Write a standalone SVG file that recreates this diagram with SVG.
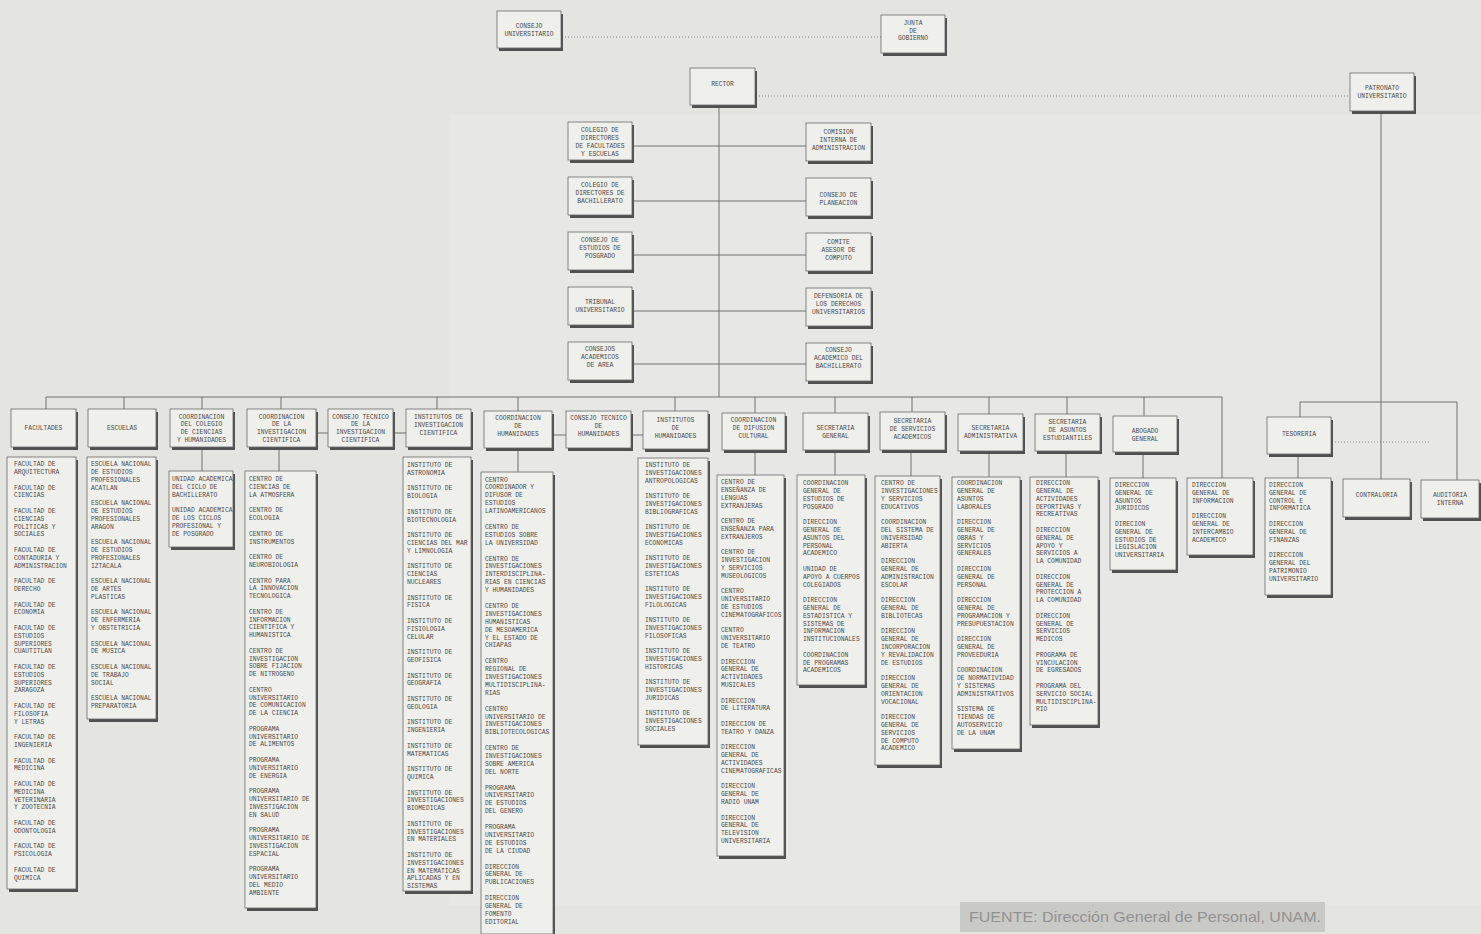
<svg xmlns="http://www.w3.org/2000/svg" width="1481" height="934" viewBox="0 0 1481 934">
<style>
.bg{fill:#e4e4e1}
.bx{fill:#efefec;stroke:#6a6a6a;stroke-width:0.8}
.sh{fill:#505050}
.t{font-family:"Liberation Mono","DejaVu Sans Mono",monospace;font-size:6.3px;fill:#4a4a4a}
.c{text-anchor:middle}
.ln{stroke:#707070;stroke-width:1;fill:none}
.dt{stroke:#8a8a8a;stroke-width:1;fill:none;stroke-dasharray:1 2}
.src{font-family:"Liberation Sans",Arial,sans-serif;font-size:15.5px;fill:#929292}
</style>
<rect class="bg" x="0" y="0" width="1481" height="934"/>
<rect x="450" y="115" width="1031" height="790" fill="#e7e7e5"/>

<g id="connectors">
  <line class="dt" x1="562" y1="37" x2="881" y2="37"/>
  <line class="dt" x1="756" y1="96" x2="1350" y2="96"/>
  <line class="dt" x1="1332" y1="442" x2="1430" y2="442"/>
  <line class="ln" x1="719" y1="107" x2="719" y2="397"/>
  <line class="ln" x1="632" y1="146" x2="806" y2="146"/>
  <line class="ln" x1="632" y1="201" x2="806" y2="201"/>
  <line class="ln" x1="632" y1="255" x2="806" y2="255"/>
  <line class="ln" x1="632" y1="311" x2="806" y2="311"/>
  <line class="ln" x1="632" y1="364" x2="806" y2="364"/>
  <line class="ln" x1="46" y1="397" x2="1222" y2="397"/>
  <line class="ln" x1="46" y1="397" x2="46" y2="409"/>
  <line class="ln" x1="124" y1="397" x2="124" y2="409"/>
  <line class="ln" x1="202" y1="397" x2="202" y2="409"/>
  <line class="ln" x1="281" y1="397" x2="281" y2="409"/>
  <line class="ln" x1="437" y1="397" x2="437" y2="409"/>
  <line class="ln" x1="518" y1="397" x2="518" y2="411"/>
  <line class="ln" x1="675" y1="397" x2="675" y2="411"/>
  <line class="ln" x1="755" y1="397" x2="755" y2="413"/>
  <line class="ln" x1="835" y1="397" x2="835" y2="413"/>
  <line class="ln" x1="912" y1="397" x2="912" y2="412"/>
  <line class="ln" x1="989" y1="397" x2="989" y2="414"/>
  <line class="ln" x1="1067" y1="397" x2="1067" y2="414"/>
  <line class="ln" x1="1144" y1="397" x2="1144" y2="416"/>
  <line class="ln" x1="1222" y1="397" x2="1222" y2="478"/>
  <line class="ln" x1="202" y1="449" x2="202" y2="471"/>
  <line class="ln" x1="279" y1="449" x2="279" y2="471"/>
  <line class="ln" x1="518" y1="450" x2="518" y2="472"/>
  <line class="ln" x1="755" y1="452" x2="755" y2="475"/>
  <line class="ln" x1="835" y1="452" x2="835" y2="475"/>
  <line class="ln" x1="911" y1="452" x2="911" y2="476"/>
  <line class="ln" x1="989" y1="453" x2="989" y2="477"/>
  <line class="ln" x1="1066" y1="453" x2="1066" y2="477"/>
  <line class="ln" x1="1143" y1="454" x2="1143" y2="478"/>
  <line class="ln" x1="1298" y1="456" x2="1298" y2="478"/>
  <line class="ln" x1="316" y1="433" x2="328" y2="433"/>
  <line class="ln" x1="393" y1="433" x2="406" y2="433"/>
  <line class="ln" x1="552" y1="435" x2="566" y2="435"/>
  <line class="ln" x1="631" y1="435" x2="643" y2="435"/>
  <line class="ln" x1="1381" y1="111" x2="1381" y2="479"/>
  <line class="ln" x1="1300" y1="402" x2="1457" y2="402"/>
  <line class="ln" x1="1300" y1="402" x2="1300" y2="417"/>
  <line class="ln" x1="1457" y1="402" x2="1457" y2="480"/>
</g>

<g id="n-consejo-universitario"><rect class="sh" x="499" y="14" width="64" height="37"/><rect class="bx" x="497" y="11" width="64" height="37"/>
<text class="t c"><tspan x="529" y="28">CONSEJO</tspan><tspan x="529" dy="7.8">UNIVERSITARIO</tspan></text></g>
<g id="n-junta"><rect class="sh" x="883" y="18" width="64" height="38"/><rect class="bx" x="881" y="15" width="64" height="38"/>
<text class="t c"><tspan x="913" y="25">JUNTA</tspan><tspan x="913" dy="7.5">DE</tspan><tspan x="913" dy="7.5">GOBIERNO</tspan></text></g>
<g id="n-rector"><rect class="sh" x="692" y="71" width="65" height="37"/><rect class="bx" x="690" y="68" width="65" height="37"/>
<text class="t c" x="722.5" y="86">RECTOR</text></g>
<g id="n-patronato"><rect class="sh" x="1352" y="76" width="64" height="38"/><rect class="bx" x="1350" y="73" width="64" height="38"/>
<text class="t c"><tspan x="1382" y="90">PATRONATO</tspan><tspan x="1382" dy="8">UNIVERSITARIO</tspan></text></g>

<g id="n-colegio-fac"><rect class="sh" x="570" y="125" width="64" height="38"/><rect class="bx" x="568" y="122" width="64" height="38"/>
<text class="t c"><tspan x="600" y="132.2">COLEGIO DE</tspan><tspan x="600" dy="7.8">DIRECTORES</tspan><tspan x="600" dy="7.8">DE FACULTADES</tspan><tspan x="600" dy="7.8">Y ESCUELAS</tspan></text></g>
<g id="n-colegio-bach"><rect class="sh" x="570" y="180" width="64" height="38"/><rect class="bx" x="568" y="177" width="64" height="38"/>
<text class="t c"><tspan x="600" y="187.2">COLEGIO DE</tspan><tspan x="600" dy="7.8">DIRECTORES DE</tspan><tspan x="600" dy="7.8">BACHILLERATO</tspan></text></g>
<g id="n-consejo-posgrado"><rect class="sh" x="570" y="235" width="64" height="38"/><rect class="bx" x="568" y="232" width="64" height="38"/>
<text class="t c"><tspan x="600" y="242.2">CONSEJO DE</tspan><tspan x="600" dy="7.8">ESTUDIOS DE</tspan><tspan x="600" dy="7.8">POSGRADO</tspan></text></g>
<g id="n-tribunal"><rect class="sh" x="570" y="290" width="64" height="38"/><rect class="bx" x="568" y="287" width="64" height="38"/>
<text class="t c"><tspan x="600" y="304.2">TRIBUNAL</tspan><tspan x="600" dy="7.8">UNIVERSITARIO</tspan></text></g>
<g id="n-consejos-area"><rect class="sh" x="570" y="345" width="64" height="38"/><rect class="bx" x="568" y="342" width="64" height="38"/>
<text class="t c"><tspan x="600" y="351.2">CONSEJOS</tspan><tspan x="600" dy="7.8">ACADEMICOS</tspan><tspan x="600" dy="7.8">DE AREA</tspan></text></g>

<g id="n-comision"><rect class="sh" x="808" y="126" width="65" height="38"/><rect class="bx" x="806" y="123" width="65" height="38"/>
<text class="t c"><tspan x="838.5" y="134.2">COMISION</tspan><tspan x="838.5" dy="7.8">INTERNA DE</tspan><tspan x="838.5" dy="7.8">ADMINISTRACION</tspan></text></g>
<g id="n-planeacion"><rect class="sh" x="808" y="181" width="65" height="38"/><rect class="bx" x="806" y="178" width="65" height="38"/>
<text class="t c"><tspan x="838.5" y="197.2">CONSEJO DE</tspan><tspan x="838.5" dy="7.8">PLANEACION</tspan></text></g>
<g id="n-comite"><rect class="sh" x="808" y="236" width="65" height="38"/><rect class="bx" x="806" y="233" width="65" height="38"/>
<text class="t c"><tspan x="838.5" y="244.2">COMITE</tspan><tspan x="838.5" dy="7.8">ASESOR DE</tspan><tspan x="838.5" dy="7.8">COMPUTO</tspan></text></g>
<g id="n-defensoria"><rect class="sh" x="808" y="291" width="65" height="38"/><rect class="bx" x="806" y="288" width="65" height="38"/>
<text class="t c"><tspan x="838.5" y="298.2">DEFENSORIA DE</tspan><tspan x="838.5" dy="7.8">LOS DERECHOS</tspan><tspan x="838.5" dy="7.8">UNIVERSITARIOS</tspan></text></g>
<g id="n-consejo-bach"><rect class="sh" x="808" y="346" width="65" height="38"/><rect class="bx" x="806" y="343" width="65" height="38"/>
<text class="t c"><tspan x="838.5" y="352.2">CONSEJO</tspan><tspan x="838.5" dy="7.8">ACADEMICO DEL</tspan><tspan x="838.5" dy="7.8">BACHILLERATO</tspan></text></g>

<g id="n-facultades"><rect class="sh" x="13" y="412" width="65" height="38"/><rect class="bx" x="11" y="409" width="65" height="38"/>
<text class="t c" x="43.5" y="430">FACULTADES</text></g>
<g id="n-escuelas"><rect class="sh" x="90" y="412" width="68" height="38"/><rect class="bx" x="88" y="409" width="68" height="38"/>
<text class="t c" x="122" y="430">ESCUELAS</text></g>
<g id="n-cch"><rect class="sh" x="172" y="412" width="63" height="38"/><rect class="bx" x="170" y="409" width="63" height="38"/>
<text class="t c"><tspan x="201.5" y="418.5">COORDINACION</tspan><tspan x="201.5" dy="7.8">DEL COLEGIO</tspan><tspan x="201.5" dy="7.8">DE CIENCIAS</tspan><tspan x="201.5" dy="7.8">Y HUMANIDADES</tspan></text></g>
<g id="n-cic"><rect class="sh" x="249" y="412" width="69" height="38"/><rect class="bx" x="247" y="409" width="69" height="38"/>
<text class="t c"><tspan x="281.5" y="418.5">COORDINACION</tspan><tspan x="281.5" dy="7.8">DE LA</tspan><tspan x="281.5" dy="7.8">INVESTIGACION</tspan><tspan x="281.5" dy="7.8">CIENTIFICA</tspan></text></g>
<g id="n-ctic"><rect class="sh" x="330" y="412" width="65" height="38"/><rect class="bx" x="328" y="409" width="65" height="38"/>
<text class="t c"><tspan x="360.5" y="418.5">CONSEJO TECNICO</tspan><tspan x="360.5" dy="7.8">DE LA</tspan><tspan x="360.5" dy="7.8">INVESTIGACION</tspan><tspan x="360.5" dy="7.8">CIENTIFICA</tspan></text></g>
<g id="n-iic"><rect class="sh" x="408" y="412" width="65" height="38"/><rect class="bx" x="406" y="409" width="65" height="38"/>
<text class="t c"><tspan x="438.5" y="419.2">INSTITUTOS DE</tspan><tspan x="438.5" dy="7.8">INVESTIGACION</tspan><tspan x="438.5" dy="7.8">CIENTIFICA</tspan></text></g>
<g id="n-ch"><rect class="sh" x="486" y="414" width="68" height="37"/><rect class="bx" x="484" y="411" width="68" height="37"/>
<text class="t c"><tspan x="518" y="420">COORDINACION</tspan><tspan x="518" dy="7.8">DE</tspan><tspan x="518" dy="7.8">HUMANIDADES</tspan></text></g>
<g id="n-cth"><rect class="sh" x="568" y="414" width="65" height="37"/><rect class="bx" x="566" y="411" width="65" height="37"/>
<text class="t c"><tspan x="598.5" y="420">CONSEJO TECNICO</tspan><tspan x="598.5" dy="7.8">DE</tspan><tspan x="598.5" dy="7.8">HUMANIDADES</tspan></text></g>
<g id="n-ih"><rect class="sh" x="645" y="414" width="65" height="38"/><rect class="bx" x="643" y="411" width="65" height="38"/>
<text class="t c"><tspan x="675.5" y="422">INSTITUTOS</tspan><tspan x="675.5" dy="7.8">DE</tspan><tspan x="675.5" dy="7.8">HUMANIDADES</tspan></text></g>
<g id="n-cdc"><rect class="sh" x="724" y="416" width="63" height="37"/><rect class="bx" x="722" y="413" width="63" height="37"/>
<text class="t c"><tspan x="753.5" y="422">COORDINACION</tspan><tspan x="753.5" dy="7.8">DE DIFUSION</tspan><tspan x="753.5" dy="7.8">CULTURAL</tspan></text></g>
<g id="n-sg"><rect class="sh" x="805" y="416" width="65" height="37"/><rect class="bx" x="803" y="413" width="65" height="37"/>
<text class="t c"><tspan x="835.5" y="430">SECRETARIA</tspan><tspan x="835.5" dy="7.8">GENERAL</tspan></text></g>
<g id="n-ssa"><rect class="sh" x="882" y="415" width="65" height="38"/><rect class="bx" x="880" y="412" width="65" height="38"/>
<text class="t c"><tspan x="912.5" y="423">SECRETARIA</tspan><tspan x="912.5" dy="7.8">DE SERVICIOS</tspan><tspan x="912.5" dy="7.8">ACADEMICOS</tspan></text></g>
<g id="n-sa"><rect class="sh" x="960" y="417" width="65" height="37"/><rect class="bx" x="958" y="414" width="65" height="37"/>
<text class="t c"><tspan x="990.5" y="430">SECRETARIA</tspan><tspan x="990.5" dy="7.8">ADMINISTRATIVA</tspan></text></g>
<g id="n-sae"><rect class="sh" x="1037" y="417" width="65" height="37"/><rect class="bx" x="1035" y="414" width="65" height="37"/>
<text class="t c"><tspan x="1067.5" y="424">SECRETARIA</tspan><tspan x="1067.5" dy="7.8">DE ASUNTOS</tspan><tspan x="1067.5" dy="7.8">ESTUDIANTILES</tspan></text></g>
<g id="n-ag"><rect class="sh" x="1115" y="419" width="64" height="36"/><rect class="bx" x="1113" y="416" width="64" height="36"/>
<text class="t c"><tspan x="1145" y="433">ABOGADO</tspan><tspan x="1145" dy="7.8">GENERAL</tspan></text></g>
<g id="n-tesoreria"><rect class="sh" x="1269" y="420" width="64" height="37"/><rect class="bx" x="1267" y="417" width="64" height="37"/>
<text class="t c" x="1299" y="436">TESORERIA</text></g>

<g id="n-fac-list"><rect class="sh" x="9" y="460" width="69" height="432"/><rect class="bx" x="7" y="457" width="69" height="432"/>
<text class="t"><tspan x="14" y="466.2">FACULTAD DE</tspan><tspan x="14" dy="7.8">ARQUITECTURA</tspan><tspan x="14" dy="15.6">FACULTAD DE</tspan><tspan x="14" dy="7.8">CIENCIAS</tspan><tspan x="14" dy="15.6">FACULTAD DE</tspan><tspan x="14" dy="7.8">CIENCIAS</tspan><tspan x="14" dy="7.8">POLITICAS Y</tspan><tspan x="14" dy="7.8">SOCIALES</tspan><tspan x="14" dy="15.6">FACULTAD DE</tspan><tspan x="14" dy="7.8">CONTADURIA Y</tspan><tspan x="14" dy="7.8">ADMINISTRACION</tspan><tspan x="14" dy="15.6">FACULTAD DE</tspan><tspan x="14" dy="7.8">DERECHO</tspan><tspan x="14" dy="15.6">FACULTAD DE</tspan><tspan x="14" dy="7.8">ECONOMIA</tspan><tspan x="14" dy="15.6">FACULTAD DE</tspan><tspan x="14" dy="7.8">ESTUDIOS</tspan><tspan x="14" dy="7.8">SUPERIORES</tspan><tspan x="14" dy="7.8">CUAUTITLAN</tspan><tspan x="14" dy="15.6">FACULTAD DE</tspan><tspan x="14" dy="7.8">ESTUDIOS</tspan><tspan x="14" dy="7.8">SUPERIORES</tspan><tspan x="14" dy="7.8">ZARAGOZA</tspan><tspan x="14" dy="15.6">FACULTAD DE</tspan><tspan x="14" dy="7.8">FILOSOFIA</tspan><tspan x="14" dy="7.8">Y LETRAS</tspan><tspan x="14" dy="15.6">FACULTAD DE</tspan><tspan x="14" dy="7.8">INGENIERIA</tspan><tspan x="14" dy="15.6">FACULTAD DE</tspan><tspan x="14" dy="7.8">MEDICINA</tspan><tspan x="14" dy="15.6">FACULTAD DE</tspan><tspan x="14" dy="7.8">MEDICINA</tspan><tspan x="14" dy="7.8">VETERINARIA</tspan><tspan x="14" dy="7.8">Y ZOOTECNIA</tspan><tspan x="14" dy="15.6">FACULTAD DE</tspan><tspan x="14" dy="7.8">ODONTOLOGIA</tspan><tspan x="14" dy="15.6">FACULTAD DE</tspan><tspan x="14" dy="7.8">PSICOLOGIA</tspan><tspan x="14" dy="15.6">FACULTAD DE</tspan><tspan x="14" dy="7.8">QUIMICA</tspan></text></g>

<g id="n-esc-list"><rect class="sh" x="89" y="460" width="69" height="262"/><rect class="bx" x="87" y="457" width="69" height="262"/>
<text class="t"><tspan x="91" y="466.2">ESCUELA NACIONAL</tspan><tspan x="91" dy="7.8">DE ESTUDIOS</tspan><tspan x="91" dy="7.8">PROFESIONALES</tspan><tspan x="91" dy="7.8">ACATLAN</tspan><tspan x="91" dy="15.6">ESCUELA NACIONAL</tspan><tspan x="91" dy="7.8">DE ESTUDIOS</tspan><tspan x="91" dy="7.8">PROFESIONALES</tspan><tspan x="91" dy="7.8">ARAGON</tspan><tspan x="91" dy="15.6">ESCUELA NACIONAL</tspan><tspan x="91" dy="7.8">DE ESTUDIOS</tspan><tspan x="91" dy="7.8">PROFESIONALES</tspan><tspan x="91" dy="7.8">IZTACALA</tspan><tspan x="91" dy="15.6">ESCUELA NACIONAL</tspan><tspan x="91" dy="7.8">DE ARTES</tspan><tspan x="91" dy="7.8">PLASTICAS</tspan><tspan x="91" dy="15.6">ESCUELA NACIONAL</tspan><tspan x="91" dy="7.8">DE ENFERMERIA</tspan><tspan x="91" dy="7.8">Y OBSTETRICIA</tspan><tspan x="91" dy="15.6">ESCUELA NACIONAL</tspan><tspan x="91" dy="7.8">DE MUSICA</tspan><tspan x="91" dy="15.6">ESCUELA NACIONAL</tspan><tspan x="91" dy="7.8">DE TRABAJO</tspan><tspan x="91" dy="7.8">SOCIAL</tspan><tspan x="91" dy="15.6">ESCUELA NACIONAL</tspan><tspan x="91" dy="7.8">PREPARATORIA</tspan></text></g>

<g id="n-unidad"><rect class="sh" x="171" y="474" width="64" height="76"/><rect class="bx" x="169" y="471" width="64" height="76"/>
<text class="t"><tspan x="172" y="481">UNIDAD ACADEMICA</tspan><tspan x="172" dy="7.8">DEL CICLO DE</tspan><tspan x="172" dy="7.8">BACHILLERATO</tspan><tspan x="172" dy="15.6">UNIDAD ACADEMICA</tspan><tspan x="172" dy="7.8">DE LOS CICLOS</tspan><tspan x="172" dy="7.8">PROFESIONAL Y</tspan><tspan x="172" dy="7.8">DE POSGRADO</tspan></text></g>

<g id="n-cic-list"><rect class="sh" x="247" y="474" width="71" height="437"/><rect class="bx" x="245" y="471" width="71" height="437"/>
<text class="t"><tspan x="249" y="481.2">CENTRO DE</tspan><tspan x="249" dy="7.8">CIENCIAS DE</tspan><tspan x="249" dy="7.8">LA ATMOSFERA</tspan><tspan x="249" dy="15.6">CENTRO DE</tspan><tspan x="249" dy="7.8">ECOLOGIA</tspan><tspan x="249" dy="15.6">CENTRO DE</tspan><tspan x="249" dy="7.8">INSTRUMENTOS</tspan><tspan x="249" dy="15.6">CENTRO DE</tspan><tspan x="249" dy="7.8">NEUROBIOLOGIA</tspan><tspan x="249" dy="15.6">CENTRO PARA</tspan><tspan x="249" dy="7.8">LA INNOVACION</tspan><tspan x="249" dy="7.8">TECNOLOGICA</tspan><tspan x="249" dy="15.6">CENTRO DE</tspan><tspan x="249" dy="7.8">INFORMACION</tspan><tspan x="249" dy="7.8">CIENTIFICA Y</tspan><tspan x="249" dy="7.8">HUMANISTICA</tspan><tspan x="249" dy="15.6">CENTRO DE</tspan><tspan x="249" dy="7.8">INVESTIGACION</tspan><tspan x="249" dy="7.8">SOBRE FIJACION</tspan><tspan x="249" dy="7.8">DE NITROGENO</tspan><tspan x="249" dy="15.6">CENTRO</tspan><tspan x="249" dy="7.8">UNIVERSITARIO</tspan><tspan x="249" dy="7.8">DE COMUNICACION</tspan><tspan x="249" dy="7.8">DE LA CIENCIA</tspan><tspan x="249" dy="15.6">PROGRAMA</tspan><tspan x="249" dy="7.8">UNIVERSITARIO</tspan><tspan x="249" dy="7.8">DE ALIMENTOS</tspan><tspan x="249" dy="15.6">PROGRAMA</tspan><tspan x="249" dy="7.8">UNIVERSITARIO</tspan><tspan x="249" dy="7.8">DE ENERGIA</tspan><tspan x="249" dy="15.6">PROGRAMA</tspan><tspan x="249" dy="7.8">UNIVERSITARIO DE</tspan><tspan x="249" dy="7.8">INVESTIGACION</tspan><tspan x="249" dy="7.8">EN SALUD</tspan><tspan x="249" dy="15.6">PROGRAMA</tspan><tspan x="249" dy="7.8">UNIVERSITARIO DE</tspan><tspan x="249" dy="7.8">INVESTIGACION</tspan><tspan x="249" dy="7.8">ESPACIAL</tspan><tspan x="249" dy="15.6">PROGRAMA</tspan><tspan x="249" dy="7.8">UNIVERSITARIO</tspan><tspan x="249" dy="7.8">DEL MEDIO</tspan><tspan x="249" dy="7.8">AMBIENTE</tspan></text></g>

<g id="n-iic-list"><rect class="sh" x="405" y="460" width="68" height="434"/><rect class="bx" x="403" y="457" width="68" height="434"/>
<text class="t"><tspan x="407" y="467">INSTITUTO DE</tspan><tspan x="407" dy="7.8">ASTRONOMIA</tspan><tspan x="407" dy="15.6">INSTITUTO DE</tspan><tspan x="407" dy="7.8">BIOLOGIA</tspan><tspan x="407" dy="15.6">INSTITUTO DE</tspan><tspan x="407" dy="7.8">BIOTECNOLOGIA</tspan><tspan x="407" dy="15.6">INSTITUTO DE</tspan><tspan x="407" dy="7.8">CIENCIAS DEL MAR</tspan><tspan x="407" dy="7.8">Y LIMNOLOGIA</tspan><tspan x="407" dy="15.6">INSTITUTO DE</tspan><tspan x="407" dy="7.8">CIENCIAS</tspan><tspan x="407" dy="7.8">NUCLEARES</tspan><tspan x="407" dy="15.6">INSTITUTO DE</tspan><tspan x="407" dy="7.8">FISICA</tspan><tspan x="407" dy="15.6">INSTITUTO DE</tspan><tspan x="407" dy="7.8">FISIOLOGIA</tspan><tspan x="407" dy="7.8">CELULAR</tspan><tspan x="407" dy="15.6">INSTITUTO DE</tspan><tspan x="407" dy="7.8">GEOFISICA</tspan><tspan x="407" dy="15.6">INSTITUTO DE</tspan><tspan x="407" dy="7.8">GEOGRAFIA</tspan><tspan x="407" dy="15.6">INSTITUTO DE</tspan><tspan x="407" dy="7.8">GEOLOGIA</tspan><tspan x="407" dy="15.6">INSTITUTO DE</tspan><tspan x="407" dy="7.8">INGENIERIA</tspan><tspan x="407" dy="15.6">INSTITUTO DE</tspan><tspan x="407" dy="7.8">MATEMATICAS</tspan><tspan x="407" dy="15.6">INSTITUTO DE</tspan><tspan x="407" dy="7.8">QUIMICA</tspan><tspan x="407" dy="15.6">INSTITUTO DE</tspan><tspan x="407" dy="7.8">INVESTIGACIONES</tspan><tspan x="407" dy="7.8">BIOMEDICAS</tspan><tspan x="407" dy="15.6">INSTITUTO DE</tspan><tspan x="407" dy="7.8">INVESTIGACIONES</tspan><tspan x="407" dy="7.8">EN MATERIALES</tspan><tspan x="407" dy="15.6">INSTITUTO DE</tspan><tspan x="407" dy="7.8">INVESTIGACIONES</tspan><tspan x="407" dy="7.8">EN MATEMATICAS</tspan><tspan x="407" dy="7.8">APLICADAS Y EN</tspan><tspan x="407" dy="7.8">SISTEMAS</tspan></text></g>

<g id="n-ch-list"><rect class="sh" x="483" y="475" width="72" height="462"/><rect class="bx" x="481" y="472" width="72" height="462"/>
<text class="t"><tspan x="485" y="481.5">CENTRO</tspan><tspan x="485" dy="7.9">COORDINADOR Y</tspan><tspan x="485" dy="7.9">DIFUSOR DE</tspan><tspan x="485" dy="7.9">ESTUDIOS</tspan><tspan x="485" dy="7.9">LATINOAMERICANOS</tspan><tspan x="485" dy="15.8">CENTRO DE</tspan><tspan x="485" dy="7.9">ESTUDIOS SOBRE</tspan><tspan x="485" dy="7.9">LA UNIVERSIDAD</tspan><tspan x="485" dy="15.8">CENTRO DE</tspan><tspan x="485" dy="7.9">INVESTIGACIONES</tspan><tspan x="485" dy="7.9">INTERDISCIPLINA-</tspan><tspan x="485" dy="7.9">RIAS EN CIENCIAS</tspan><tspan x="485" dy="7.9">Y HUMANIDADES</tspan><tspan x="485" dy="15.8">CENTRO DE</tspan><tspan x="485" dy="7.9">INVESTIGACIONES</tspan><tspan x="485" dy="7.9">HUMANISTICAS</tspan><tspan x="485" dy="7.9">DE MESOAMERICA</tspan><tspan x="485" dy="7.9">Y EL ESTADO DE</tspan><tspan x="485" dy="7.9">CHIAPAS</tspan><tspan x="485" dy="15.8">CENTRO</tspan><tspan x="485" dy="7.9">REGIONAL DE</tspan><tspan x="485" dy="7.9">INVESTIGACIONES</tspan><tspan x="485" dy="7.9">MULTIDISCIPLINA-</tspan><tspan x="485" dy="7.9">RIAS</tspan><tspan x="485" dy="15.8">CENTRO</tspan><tspan x="485" dy="7.9">UNIVERSITARIO DE</tspan><tspan x="485" dy="7.9">INVESTIGACIONES</tspan><tspan x="485" dy="7.9">BIBLIOTECOLOGICAS</tspan><tspan x="485" dy="15.8">CENTRO DE</tspan><tspan x="485" dy="7.9">INVESTIGACIONES</tspan><tspan x="485" dy="7.9">SOBRE AMERICA</tspan><tspan x="485" dy="7.9">DEL NORTE</tspan><tspan x="485" dy="15.8">PROGRAMA</tspan><tspan x="485" dy="7.9">UNIVERSITARIO</tspan><tspan x="485" dy="7.9">DE ESTUDIOS</tspan><tspan x="485" dy="7.9">DEL GENERO</tspan><tspan x="485" dy="15.8">PROGRAMA</tspan><tspan x="485" dy="7.9">UNIVERSITARIO</tspan><tspan x="485" dy="7.9">DE ESTUDIOS</tspan><tspan x="485" dy="7.9">DE LA CIUDAD</tspan><tspan x="485" dy="15.8">DIRECCION</tspan><tspan x="485" dy="7.9">GENERAL DE</tspan><tspan x="485" dy="7.9">PUBLICACIONES</tspan><tspan x="485" dy="15.8">DIRECCION</tspan><tspan x="485" dy="7.9">GENERAL DE</tspan><tspan x="485" dy="7.9">FOMENTO</tspan><tspan x="485" dy="7.9">EDITORIAL</tspan></text></g>

<g id="n-ih-list"><rect class="sh" x="640" y="461" width="70" height="287"/><rect class="bx" x="638" y="458" width="70" height="287"/>
<text class="t"><tspan x="645" y="467">INSTITUTO DE</tspan><tspan x="645" dy="7.75">INVESTIGACIONES</tspan><tspan x="645" dy="7.75">ANTROPOLOGICAS</tspan><tspan x="645" dy="15.5">INSTITUTO DE</tspan><tspan x="645" dy="7.75">INVESTIGACIONES</tspan><tspan x="645" dy="7.75">BIBLIOGRAFICAS</tspan><tspan x="645" dy="15.5">INSTITUTO DE</tspan><tspan x="645" dy="7.75">INVESTIGACIONES</tspan><tspan x="645" dy="7.75">ECONOMICAS</tspan><tspan x="645" dy="15.5">INSTITUTO DE</tspan><tspan x="645" dy="7.75">INVESTIGACIONES</tspan><tspan x="645" dy="7.75">ESTETICAS</tspan><tspan x="645" dy="15.5">INSTITUTO DE</tspan><tspan x="645" dy="7.75">INVESTIGACIONES</tspan><tspan x="645" dy="7.75">FILOLOGICAS</tspan><tspan x="645" dy="15.5">INSTITUTO DE</tspan><tspan x="645" dy="7.75">INVESTIGACIONES</tspan><tspan x="645" dy="7.75">FILOSOFICAS</tspan><tspan x="645" dy="15.5">INSTITUTO DE</tspan><tspan x="645" dy="7.75">INVESTIGACIONES</tspan><tspan x="645" dy="7.75">HISTORICAS</tspan><tspan x="645" dy="15.5">INSTITUTO DE</tspan><tspan x="645" dy="7.75">INVESTIGACIONES</tspan><tspan x="645" dy="7.75">JURIDICAS</tspan><tspan x="645" dy="15.5">INSTITUTO DE</tspan><tspan x="645" dy="7.75">INVESTIGACIONES</tspan><tspan x="645" dy="7.75">SOCIALES</tspan></text></g>

<g id="n-cdc-list"><rect class="sh" x="719" y="478" width="67" height="381"/><rect class="bx" x="717" y="475" width="67" height="381"/>
<text class="t"><tspan x="721" y="484.2">CENTRO DE</tspan><tspan x="721" dy="7.8">ENSEÑANZA DE</tspan><tspan x="721" dy="7.8">LENGUAS</tspan><tspan x="721" dy="7.8">EXTRANJERAS</tspan><tspan x="721" dy="15.6">CENTRO DE</tspan><tspan x="721" dy="7.8">ENSEÑANZA PARA</tspan><tspan x="721" dy="7.8">EXTRANJEROS</tspan><tspan x="721" dy="15.6">CENTRO DE</tspan><tspan x="721" dy="7.8">INVESTIGACION</tspan><tspan x="721" dy="7.8">Y SERVICIOS</tspan><tspan x="721" dy="7.8">MUSEOLOGICOS</tspan><tspan x="721" dy="15.6">CENTRO</tspan><tspan x="721" dy="7.8">UNIVERSITARIO</tspan><tspan x="721" dy="7.8">DE ESTUDIOS</tspan><tspan x="721" dy="7.8">CINEMATOGRAFICOS</tspan><tspan x="721" dy="15.6">CENTRO</tspan><tspan x="721" dy="7.8">UNIVERSITARIO</tspan><tspan x="721" dy="7.8">DE TEATRO</tspan><tspan x="721" dy="15.6">DIRECCION</tspan><tspan x="721" dy="7.8">GENERAL DE</tspan><tspan x="721" dy="7.8">ACTIVIDADES</tspan><tspan x="721" dy="7.8">MUSICALES</tspan><tspan x="721" dy="15.6">DIRECCION</tspan><tspan x="721" dy="7.8">DE LITERATURA</tspan><tspan x="721" dy="15.6">DIRECCION DE</tspan><tspan x="721" dy="7.8">TEATRO Y DANZA</tspan><tspan x="721" dy="15.6">DIRECCION</tspan><tspan x="721" dy="7.8">GENERAL DE</tspan><tspan x="721" dy="7.8">ACTIVIDADES</tspan><tspan x="721" dy="7.8">CINEMATOGRAFICAS</tspan><tspan x="721" dy="15.6">DIRECCION</tspan><tspan x="721" dy="7.8">GENERAL DE</tspan><tspan x="721" dy="7.8">RADIO UNAM</tspan><tspan x="721" dy="15.6">DIRECCION</tspan><tspan x="721" dy="7.8">GENERAL DE</tspan><tspan x="721" dy="7.8">TELEVISION</tspan><tspan x="721" dy="7.8">UNIVERSITARIA</tspan></text></g>

<g id="n-sg-list"><rect class="sh" x="799" y="478" width="68" height="210"/><rect class="bx" x="797" y="475" width="68" height="210"/>
<text class="t"><tspan x="803" y="485.2">COORDINACION</tspan><tspan x="803" dy="7.8">GENERAL DE</tspan><tspan x="803" dy="7.8">ESTUDIOS DE</tspan><tspan x="803" dy="7.8">POSGRADO</tspan><tspan x="803" dy="15.6">DIRECCION</tspan><tspan x="803" dy="7.8">GENERAL DE</tspan><tspan x="803" dy="7.8">ASUNTOS DEL</tspan><tspan x="803" dy="7.8">PERSONAL</tspan><tspan x="803" dy="7.8">ACADEMICO</tspan><tspan x="803" dy="15.6">UNIDAD DE</tspan><tspan x="803" dy="7.8">APOYO A CUERPOS</tspan><tspan x="803" dy="7.8">COLEGIADOS</tspan><tspan x="803" dy="15.6">DIRECCION</tspan><tspan x="803" dy="7.8">GENERAL DE</tspan><tspan x="803" dy="7.8">ESTADISTICA Y</tspan><tspan x="803" dy="7.8">SISTEMAS DE</tspan><tspan x="803" dy="7.8">INFORMACION</tspan><tspan x="803" dy="7.8">INSTITUCIONALES</tspan><tspan x="803" dy="15.6">COORDINACION</tspan><tspan x="803" dy="7.8">DE PROGRAMAS</tspan><tspan x="803" dy="7.8">ACADEMICOS</tspan></text></g>

<g id="n-ssa-list"><rect class="sh" x="877" y="479" width="65" height="289"/><rect class="bx" x="875" y="476" width="65" height="289"/>
<text class="t"><tspan x="881" y="485.2">CENTRO DE</tspan><tspan x="881" dy="7.8">INVESTIGACIONES</tspan><tspan x="881" dy="7.8">Y SERVICIOS</tspan><tspan x="881" dy="7.8">EDUCATIVOS</tspan><tspan x="881" dy="15.6">COORDINACION</tspan><tspan x="881" dy="7.8">DEL SISTEMA DE</tspan><tspan x="881" dy="7.8">UNIVERSIDAD</tspan><tspan x="881" dy="7.8">ABIERTA</tspan><tspan x="881" dy="15.6">DIRECCION</tspan><tspan x="881" dy="7.8">GENERAL DE</tspan><tspan x="881" dy="7.8">ADMINISTRACION</tspan><tspan x="881" dy="7.8">ESCOLAR</tspan><tspan x="881" dy="15.6">DIRECCION</tspan><tspan x="881" dy="7.8">GENERAL DE</tspan><tspan x="881" dy="7.8">BIBLIOTECAS</tspan><tspan x="881" dy="15.6">DIRECCION</tspan><tspan x="881" dy="7.8">GENERAL DE</tspan><tspan x="881" dy="7.8">INCORPORACION</tspan><tspan x="881" dy="7.8">Y REVALIDACION</tspan><tspan x="881" dy="7.8">DE ESTUDIOS</tspan><tspan x="881" dy="15.6">DIRECCION</tspan><tspan x="881" dy="7.8">GENERAL DE</tspan><tspan x="881" dy="7.8">ORIENTACION</tspan><tspan x="881" dy="7.8">VOCACIONAL</tspan><tspan x="881" dy="15.6">DIRECCION</tspan><tspan x="881" dy="7.8">GENERAL DE</tspan><tspan x="881" dy="7.8">SERVICIOS</tspan><tspan x="881" dy="7.8">DE COMPUTO</tspan><tspan x="881" dy="7.8">ACADEMICO</tspan></text></g>

<g id="n-sa-list"><rect class="sh" x="954" y="480" width="68" height="272"/><rect class="bx" x="952" y="477" width="68" height="272"/>
<text class="t"><tspan x="957" y="485.2">COORDINACION</tspan><tspan x="957" dy="7.8">GENERAL DE</tspan><tspan x="957" dy="7.8">ASUNTOS</tspan><tspan x="957" dy="7.8">LABORALES</tspan><tspan x="957" dy="15.6">DIRECCION</tspan><tspan x="957" dy="7.8">GENERAL DE</tspan><tspan x="957" dy="7.8">OBRAS Y</tspan><tspan x="957" dy="7.8">SERVICIOS</tspan><tspan x="957" dy="7.8">GENERALES</tspan><tspan x="957" dy="15.6">DIRECCION</tspan><tspan x="957" dy="7.8">GENERAL DE</tspan><tspan x="957" dy="7.8">PERSONAL</tspan><tspan x="957" dy="15.6">DIRECCION</tspan><tspan x="957" dy="7.8">GENERAL DE</tspan><tspan x="957" dy="7.8">PROGRAMACION Y</tspan><tspan x="957" dy="7.8">PRESUPUESTACION</tspan><tspan x="957" dy="15.6">DIRECCION</tspan><tspan x="957" dy="7.8">GENERAL DE</tspan><tspan x="957" dy="7.8">PROVEEDURIA</tspan><tspan x="957" dy="15.6">COORDINACION</tspan><tspan x="957" dy="7.8">DE NORMATIVIDAD</tspan><tspan x="957" dy="7.8">Y SISTEMAS</tspan><tspan x="957" dy="7.8">ADMINISTRATIVOS</tspan><tspan x="957" dy="15.6">SISTEMA DE</tspan><tspan x="957" dy="7.8">TIENDAS DE</tspan><tspan x="957" dy="7.8">AUTOSERVICIO</tspan><tspan x="957" dy="7.8">DE LA UNAM</tspan></text></g>

<g id="n-sae-list"><rect class="sh" x="1032" y="480" width="68" height="248"/><rect class="bx" x="1030" y="477" width="68" height="248"/>
<text class="t"><tspan x="1036" y="485.2">DIRECCION</tspan><tspan x="1036" dy="7.8">GENERAL DE</tspan><tspan x="1036" dy="7.8">ACTIVIDADES</tspan><tspan x="1036" dy="7.8">DEPORTIVAS Y</tspan><tspan x="1036" dy="7.8">RECREATIVAS</tspan><tspan x="1036" dy="15.6">DIRECCION</tspan><tspan x="1036" dy="7.8">GENERAL DE</tspan><tspan x="1036" dy="7.8">APOYO Y</tspan><tspan x="1036" dy="7.8">SERVICIOS A</tspan><tspan x="1036" dy="7.8">LA COMUNIDAD</tspan><tspan x="1036" dy="15.6">DIRECCION</tspan><tspan x="1036" dy="7.8">GENERAL DE</tspan><tspan x="1036" dy="7.8">PROTECCION A</tspan><tspan x="1036" dy="7.8">LA COMUNIDAD</tspan><tspan x="1036" dy="15.6">DIRECCION</tspan><tspan x="1036" dy="7.8">GENERAL DE</tspan><tspan x="1036" dy="7.8">SERVICIOS</tspan><tspan x="1036" dy="7.8">MEDICOS</tspan><tspan x="1036" dy="15.6">PROGRAMA DE</tspan><tspan x="1036" dy="7.8">VINCULACION</tspan><tspan x="1036" dy="7.8">DE EGRESADOS</tspan><tspan x="1036" dy="15.6">PROGRAMA DEL</tspan><tspan x="1036" dy="7.8">SERVICIO SOCIAL</tspan><tspan x="1036" dy="7.8">MULTIDISCIPLINA-</tspan><tspan x="1036" dy="7.8">RIO</tspan></text></g>

<g id="n-ag-list"><rect class="sh" x="1112" y="481" width="66" height="92"/><rect class="bx" x="1110" y="478" width="66" height="92"/>
<text class="t"><tspan x="1115" y="487">DIRECCION</tspan><tspan x="1115" dy="7.8">GENERAL DE</tspan><tspan x="1115" dy="7.8">ASUNTOS</tspan><tspan x="1115" dy="7.8">JURIDICOS</tspan><tspan x="1115" dy="15.6">DIRECION</tspan><tspan x="1115" dy="7.8">GENERAL DE</tspan><tspan x="1115" dy="7.8">ESTUDIOS DE</tspan><tspan x="1115" dy="7.8">LEGISLACION</tspan><tspan x="1115" dy="7.8">UNIVERSITARIA</tspan></text></g>

<g id="n-dgi"><rect class="sh" x="1189" y="481" width="66" height="77"/><rect class="bx" x="1187" y="478" width="66" height="77"/>
<text class="t"><tspan x="1192" y="487">DIRECCION</tspan><tspan x="1192" dy="7.8">GENERAL DE</tspan><tspan x="1192" dy="7.8">INFORMACION</tspan><tspan x="1192" dy="15.6">DIRECCION</tspan><tspan x="1192" dy="7.8">GENERAL DE</tspan><tspan x="1192" dy="7.8">INTERCAMBIO</tspan><tspan x="1192" dy="7.8">ACADEMICO</tspan></text></g>

<g id="n-tes-list"><rect class="sh" x="1267" y="481" width="66" height="117"/><rect class="bx" x="1265" y="478" width="66" height="117"/>
<text class="t"><tspan x="1269" y="487">DIRECCION</tspan><tspan x="1269" dy="7.8">GENERAL DE</tspan><tspan x="1269" dy="7.8">CONTROL E</tspan><tspan x="1269" dy="7.8">INFORMATICA</tspan><tspan x="1269" dy="15.6">DIRECCION</tspan><tspan x="1269" dy="7.8">GENERAL DE</tspan><tspan x="1269" dy="7.8">FINANZAS</tspan><tspan x="1269" dy="15.6">DIRECCION</tspan><tspan x="1269" dy="7.8">GENERAL DEL</tspan><tspan x="1269" dy="7.8">PATRIMONIO</tspan><tspan x="1269" dy="7.8">UNIVERSITARIO</tspan></text></g>

<g id="n-contraloria"><rect class="sh" x="1345" y="482" width="67" height="38"/><rect class="bx" x="1343" y="479" width="67" height="38"/>
<text class="t c" x="1376.5" y="497">CONTRALORIA</text></g>
<g id="n-auditoria"><rect class="sh" x="1423" y="483" width="58" height="38"/><rect class="bx" x="1421" y="480" width="58" height="38"/>
<text class="t c"><tspan x="1450" y="497">AUDITORIA</tspan><tspan x="1450" dy="7.8">INTERNA</tspan></text></g>

<g id="source"><rect x="960" y="902" width="365" height="30" fill="#c9c9c6"/>
<text class="src" x="969" y="922" textLength="352" lengthAdjust="spacingAndGlyphs">FUENTE: Dirección General de Personal, UNAM.</text></g>
</svg>
